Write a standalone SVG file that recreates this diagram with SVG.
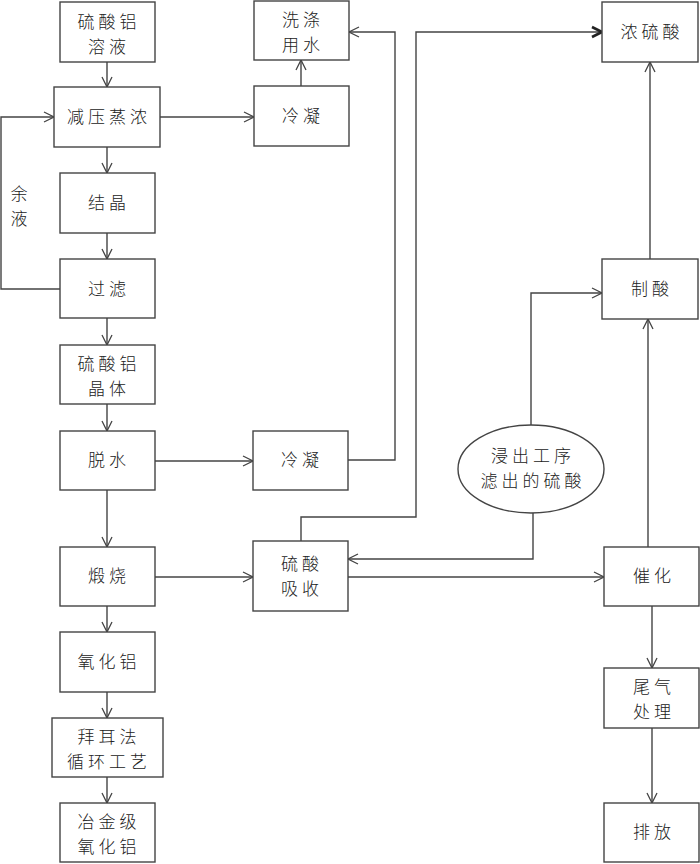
<svg xmlns="http://www.w3.org/2000/svg" width="700" height="864" viewBox="0 0 700 864">
<defs>
<style>
.box{fill:#fff;stroke:#444;stroke-width:1.4}
.t{font-family:"Noto Sans CJK SC","Noto Sans",sans-serif;font-size:17px;font-weight:300;fill:#222;text-anchor:middle;letter-spacing:4px}
.c{fill:none;stroke:#444;stroke-width:1.4}
</style>
<marker id="a" viewBox="0 0 12 12" refX="11" refY="6" markerWidth="12" markerHeight="12" markerUnits="userSpaceOnUse" orient="auto">
<path d="M1,1 L11,6 L1,11" fill="none" stroke="#444" stroke-width="1.3"/>
</marker>
<marker id="b" viewBox="0 0 14 14" refX="12" refY="7" markerWidth="14" markerHeight="14" markerUnits="userSpaceOnUse" orient="auto">
<path d="M2,2 L12,7 L2,12" fill="none" stroke="#222" stroke-width="2.6"/>
</marker>
</defs>
<rect width="700" height="864" fill="#fff"/>
<g id="connectors">
<path class="c" d="M107,62 V87" marker-end="url(#a)"/>
<path class="c" d="M160,117 H254" marker-end="url(#a)"/>
<path class="c" d="M301,86 V60" marker-end="url(#a)"/>
<path class="c" d="M107,147 V173" marker-end="url(#a)"/>
<path class="c" d="M107,233 V259" marker-end="url(#a)"/>
<path class="c" d="M60,289 H1 V117 H54" marker-end="url(#a)"/>
<path class="c" d="M107,318 V345" marker-end="url(#a)"/>
<path class="c" d="M107,404 V431" marker-end="url(#a)"/>
<path class="c" d="M155,461 H253" marker-end="url(#a)"/>
<path class="c" d="M348,460 H395 V32 H349" marker-end="url(#a)"/>
<path class="c" d="M107,490 V547" marker-end="url(#a)"/>
<path class="c" d="M107,606 V632" marker-end="url(#a)"/>
<path class="c" d="M107,692 V718" marker-end="url(#a)"/>
<path class="c" d="M107,777 V803" marker-end="url(#a)"/>
<path class="c" d="M155,577 H253" marker-end="url(#a)"/>
<path class="c" d="M301,541 V517 H416 V32 H602" marker-end="url(#b)"/>
<path class="c" d="M533,513 V559 H348" marker-end="url(#a)"/>
<path class="c" d="M348,577 H604" marker-end="url(#a)"/>
<path class="c" d="M531,425 V293 H602" marker-end="url(#a)"/>
<path class="c" d="M648,547 V319" marker-end="url(#a)"/>
<path class="c" d="M650,259 V62" marker-end="url(#a)"/>
<path class="c" d="M652,606 V668" marker-end="url(#a)"/>
<path class="c" d="M652,728 V803" marker-end="url(#a)"/>
</g>
<g id="label-yuye">
<text class="t" style="letter-spacing:0"><tspan x="19" y="200">余</tspan><tspan x="19" dy="25">液</tspan></text>
</g>
<g id="n1"><rect class="box" x="60" y="2" width="95" height="60"/><text class="t"><tspan x="109" y="28">硫酸铝</tspan><tspan x="109" dy="25">溶液</tspan></text></g>
<g id="n2"><rect class="box" x="54" y="87" width="106" height="60"/><text class="t" x="109" y="123">减压蒸浓</text></g>
<g id="n3"><rect class="box" x="60" y="173" width="95" height="60"/><text class="t" x="109" y="209">结晶</text></g>
<g id="n4"><rect class="box" x="60" y="259" width="95" height="59"/><text class="t" x="109" y="295">过滤</text></g>
<g id="n5"><rect class="box" x="60" y="345" width="95" height="59"/><text class="t"><tspan x="109" y="370">硫酸铝</tspan><tspan x="109" dy="25">晶体</tspan></text></g>
<g id="n6"><rect class="box" x="60" y="431" width="95" height="59"/><text class="t" x="109" y="466">脱水</text></g>
<g id="n7"><rect class="box" x="60" y="547" width="95" height="59"/><text class="t" x="109" y="582">煅烧</text></g>
<g id="n8"><rect class="box" x="60" y="632" width="95" height="60"/><text class="t" x="109" y="668">氧化铝</text></g>
<g id="n9"><rect class="box" x="52" y="718" width="111" height="59"/><text class="t"><tspan x="109" y="743">拜耳法</tspan><tspan x="109" dy="25">循环工艺</tspan></text></g>
<g id="n10"><rect class="box" x="60" y="803" width="95" height="59"/><text class="t"><tspan x="109" y="828">冶金级</tspan><tspan x="109" dy="25">氧化铝</tspan></text></g>
<g id="n11"><rect class="box" x="254" y="1" width="95" height="59"/><text class="t"><tspan x="303" y="26">洗涤</tspan><tspan x="303" dy="25">用水</tspan></text></g>
<g id="n12"><rect class="box" x="254" y="86" width="95" height="60"/><text class="t" x="303" y="122">冷凝</text></g>
<g id="n13"><rect class="box" x="253" y="431" width="95" height="59"/><text class="t" x="302" y="466">冷凝</text></g>
<g id="n14"><rect class="box" x="253" y="541" width="95" height="70"/><text class="t"><tspan x="302" y="570">硫酸</tspan><tspan x="302" dy="25">吸收</tspan></text></g>
<g id="n15"><rect class="box" x="602" y="2" width="96" height="60"/><text class="t" x="652" y="38">浓硫酸</text></g>
<g id="n16"><rect class="box" x="602" y="259" width="96" height="60"/><text class="t" x="652" y="295">制酸</text></g>
<g id="n17"><ellipse class="box" cx="531" cy="469" rx="73" ry="44"/><text class="t"><tspan x="533" y="462">浸出工序</tspan><tspan x="533" dy="25">滤出的硫酸</tspan></text></g>
<g id="n18"><rect class="box" x="604" y="547" width="95" height="59"/><text class="t" x="654" y="582">催化</text></g>
<g id="n19"><rect class="box" x="604" y="668" width="95" height="60"/><text class="t"><tspan x="654" y="693">尾气</tspan><tspan x="654" dy="25">处理</tspan></text></g>
<g id="n20"><rect class="box" x="604" y="803" width="95" height="59"/><text class="t" x="654" y="838">排放</text></g>
</svg>
